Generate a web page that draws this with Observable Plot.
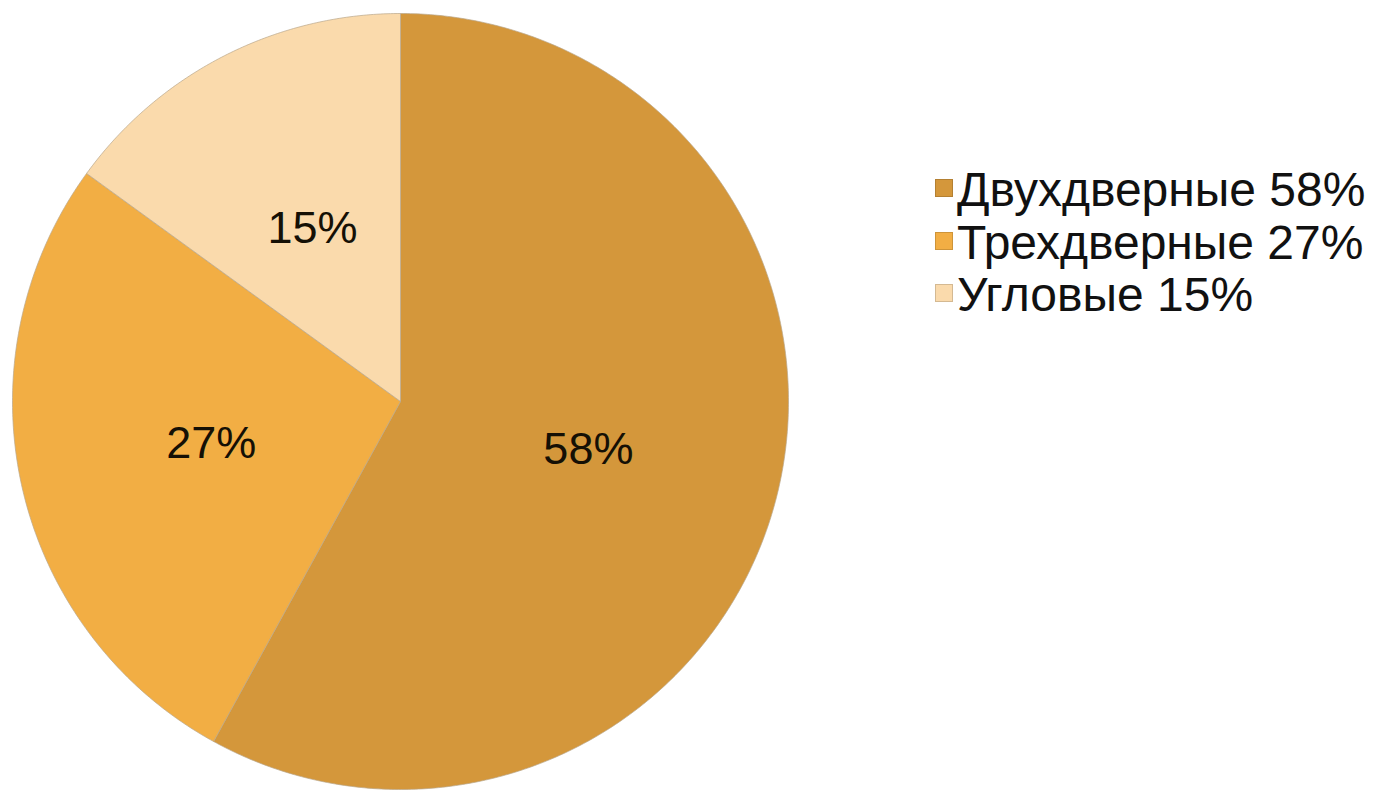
<!DOCTYPE html>
<html><head><meta charset="utf-8">
<script src="https://cdn.jsdelivr.net/npm/d3@7"></script>
<script src="https://cdn.jsdelivr.net/npm/@observablehq/plot@0.6"></script>
<style>
body{margin:0;background:#fff;font-family:"Liberation Sans",Arial,sans-serif}
#wrap{position:relative;width:1374px;height:792px;overflow:hidden}
#legend{position:absolute;left:935px;top:164px;font-size:48px;line-height:52.5px;color:#111;white-space:nowrap}
.sw{display:inline-block;width:18px;height:18px;vertical-align:9px;margin-right:4px;box-sizing:border-box;border:1px solid rgba(0,0,0,0.15)}
</style></head><body><div id="wrap"><div id="chart"></div><div id="legend"></div></div>
<script>
const categories = ["Двухдверные", "Трехдверные", "Угловые"];
const values = [58, 27, 15];
const labels = ["58%", "27%", "15%"];
const legendLabels = ["Двухдверные 58%", "Трехдверные 27%", "Угловые 15%"];
const colors = ["#D4973B", "#F2AE44", "#FADAAC"];

const arcs = d3.pie().sort(null).value(d => d)(values);
const outline = [];
arcs.forEach((a, i) => {
  const n = Math.max(2, Math.ceil((a.endAngle - a.startAngle) / (Math.PI / 360)));
  outline.push({k: categories[i], x: 0, y: 0});
  for (let j = 0; j <= n; j++) {
    const t = a.startAngle + (a.endAngle - a.startAngle) * j / n;
    outline.push({k: categories[i], x: Math.sin(t), y: Math.cos(t)});
  }
  outline.push({k: categories[i], x: 0, y: 0});
});
const labelRows = arcs.map((a, i) => {
  const m = (a.startAngle + a.endAngle) / 2;
  return {k: categories[i], text: labels[i], x: 0.5 * Math.sin(m), y: 0.5 * Math.cos(m)};
});

const chart = Plot.plot({
  width: 1374, height: 792,
  margin: 0,
  x: {domain: [-1, 1], range: [12, 788], axis: null},
  y: {domain: [-1, 1], range: [789, 13], axis: null},
  color: {domain: categories, range: colors},
  style: {fontFamily: "Liberation Sans, Arial, sans-serif", background: "transparent"},
  marks: [
    Plot.line(outline, {x: "x", y: "y", z: "k", fill: "k", stroke: "#b9a68a", strokeWidth: 1, strokeOpacity: 0.7, curve: "linear"}),
    Plot.text(labelRows, {x: "x", y: "y", text: "text", fontSize: 45, fill: "#151005", textAnchor: "middle", lineAnchor: "middle"})
  ]
});
document.getElementById("chart").appendChild(chart);

const lg = document.getElementById("legend");
legendLabels.forEach((t, i) => {
  const row = document.createElement("div");
  const sw = document.createElement("span");
  sw.className = "sw";
  sw.style.background = colors[i];
  row.appendChild(sw);
  row.appendChild(document.createTextNode(t));
  lg.appendChild(row);
});
</script>
</body></html>
